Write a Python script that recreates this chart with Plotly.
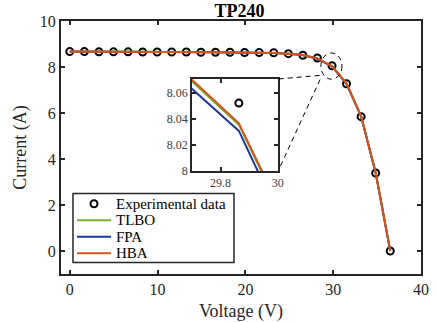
import plotly.graph_objects as go

voltage = [0, 1.66, 3.32, 4.98, 6.64, 8.30, 9.95, 11.61, 13.27, 14.93, 16.59, 18.25,
           19.91, 21.57, 23.23, 24.89, 26.55, 28.20, 29.864, 31.52, 33.18, 34.84, 36.50]
current_exp = [8.67, 8.67, 8.66, 8.66, 8.66, 8.65, 8.65, 8.65, 8.65, 8.64, 8.64, 8.64,
               8.63, 8.63, 8.62, 8.58, 8.51, 8.39, 8.052, 7.27, 5.84, 3.39, 0.0]
current_tlbo = [8.67, 8.67, 8.66, 8.66, 8.66, 8.65, 8.65, 8.65, 8.64, 8.64, 8.64, 8.63,
                8.63, 8.62, 8.61, 8.58, 8.52, 8.372, 8.0355, 7.285, 5.86, 3.40, 0.0]
current_fpa = [8.67, 8.67, 8.66, 8.66, 8.66, 8.65, 8.65, 8.65, 8.64, 8.64, 8.64, 8.63,
               8.63, 8.62, 8.61, 8.58, 8.51, 8.357, 8.0307, 7.26, 5.85, 3.39, 0.0]
current_hba = [8.67, 8.67, 8.66, 8.66, 8.66, 8.65, 8.65, 8.65, 8.64, 8.64, 8.64, 8.63,
               8.63, 8.62, 8.61, 8.58, 8.52, 8.375, 8.0365, 7.29, 5.86, 3.40, 0.0]

legend_labels = ["Experimental data", "TLBO", "FPA", "HBA"]
series = [("TLBO", current_tlbo, "#77AC30"),
          ("FPA", current_fpa, "#1F3A9A"),
          ("HBA", current_hba, "#D95319")]

FONT = "Liberation Serif"
INK = "#262626"
marker_style = dict(symbol="circle-open", size=7, color="black",
                    line=dict(width=2, color="black"))

fig = go.Figure()
fig.add_trace(go.Scatter(x=voltage, y=current_exp, mode="markers", name=legend_labels[0],
                         marker=marker_style, showlegend=False))
for name, vals, col in series:
    fig.add_trace(go.Scatter(x=voltage, y=vals, mode="lines", name=name, showlegend=False,
                             line=dict(color=col, width=2)))
# inset
fig.add_trace(go.Scatter(x=voltage, y=current_exp, mode="markers", showlegend=False,
                         xaxis="x2", yaxis="y2", marker=marker_style, cliponaxis=True))
for name, vals, col in series:
    fig.add_trace(go.Scatter(x=voltage, y=vals, mode="lines", showlegend=False,
                             xaxis="x2", yaxis="y2", line=dict(color=col, width=2)))

axis_common = dict(showline=True, linecolor=INK, linewidth=2, mirror="ticks",
                   ticks="inside", ticklen=4, tickcolor=INK, tickwidth=1.5,
                   showgrid=False, zeroline=False, automargin=False)

# overlay axis in pixel units over the plot area (for the legend box)
L, R, T, B = 61, 421, 21, 274

fig.update_layout(
    width=437, height=322,
    margin=dict(l=L, r=437 - R, t=T, b=322 - B),
    paper_bgcolor="white", plot_bgcolor="white",
    font=dict(family=FONT, size=16, color=INK),
    title=dict(text="<b>TP240</b>", x=0.548, xanchor="center", y=0.966, yanchor="middle",
               font=dict(family=FONT, size=18, color="black")),
    xaxis=dict(range=[-1, 40], tickvals=[0, 10, 20, 30, 40],
               title=dict(text="Voltage (V)", standoff=8, font=dict(size=18)), **axis_common),
    yaxis=dict(range=[-1, 10], tickvals=[0, 2, 4, 6, 8, 10],
               title=dict(text="Current (A)", standoff=8, font=dict(size=18)), **axis_common),
    xaxis2=dict(domain=[0.364, 0.602], anchor="y2", range=[29.7, 30],
                tickvals=[29.8, 30], ticktext=["29.8", "30"],
                tickfont=dict(size=12, color="#404040"), **axis_common),
    yaxis2=dict(domain=[0.407, 0.771], anchor="x2", range=[8, 8.0705],
                tickvals=[8, 8.02, 8.04, 8.06], ticktext=["8", "8.02", "8.04", "8.06"],
                tickfont=dict(size=12, color="#404040"), **axis_common),
    xaxis3=dict(domain=[0, 1], anchor="y3", overlaying="x", range=[L, R], visible=False),
    yaxis3=dict(domain=[0, 1], anchor="x3", overlaying="y", range=[B, T], visible=False),
    showlegend=False,
)

# dashed zoom indicator
dash = "5px,4px"
fig.add_shape(type="circle", xref="x", yref="y", x0=28.6, x1=31.0, y0=7.47, y1=8.61,
              line=dict(color="black", width=1, dash=dash))
fig.add_shape(type="line", xref="x", yref="y", x0=23.8, y0=7.48, x1=28.6, y1=7.64,
              line=dict(color="black", width=1, dash=dash))
fig.add_shape(type="line", xref="x", yref="y", x0=24.0, y0=3.7, x1=28.7, y1=7.62,
              line=dict(color="black", width=1, dash=dash))

# legend box
fig.add_shape(type="rect", xref="x3", yref="y3", x0=73, x1=234, y0=193.5, y1=262.5,
              fillcolor="white", line=dict(color=INK, width=1.5), layer="below")
row_y = [203.7, 220.2, 236.7, 253.2]
fig.add_trace(go.Scatter(x=[94], y=[row_y[0]], mode="markers", xaxis="x3", yaxis="y3",
                         marker=marker_style, showlegend=False, hoverinfo="skip"))
for (name, vals, col), yy in zip(series, row_y[1:]):
    fig.add_trace(go.Scatter(x=[77, 111], y=[yy, yy], mode="lines", xaxis="x3", yaxis="y3",
                             line=dict(color=col, width=2), showlegend=False, hoverinfo="skip"))
for label, yy in zip(legend_labels, row_y):
    fig.add_annotation(xref="x3", yref="y3", x=114, y=yy, text=label, showarrow=False,
                       xanchor="left", yanchor="middle",
                       font=dict(family=FONT, size=15, color="black"))

fig.write_html("out.html")
